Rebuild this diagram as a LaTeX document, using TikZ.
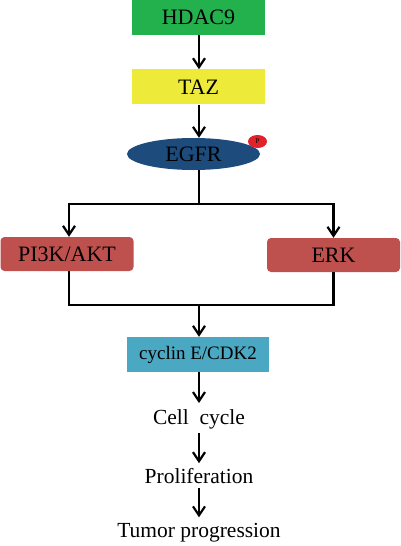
\documentclass[tikz,border=0pt]{standalone}
\usepackage{fontspec}
\setmainfont{Liberation Serif}
\usepackage{tikz}
\usetikzlibrary{positioning,arrows.meta,shapes.geometric,calc}
\definecolor{cverde}{HTML}{22B14C}
\definecolor{camarillo}{HTML}{EEEA3A}
\definecolor{cazul}{HTML}{1C4B7C}
\definecolor{crojo}{HTML}{E2222A}
\definecolor{cladrillo}{HTML}{BE504D}
\definecolor{cturquesa}{HTML}{4AA8C3}
\tikzset{
  caja/.style={rectangle, draw=none, minimum width=133pt, minimum height=35pt,
    inner sep=0pt, font=\fontsize{22}{26}\selectfont},
  cajar/.style={caja, rounded corners=4pt, fill=cladrillo, minimum height=34pt},
  texto/.style={inner sep=0pt, font=\fontsize{21.5}{25}\selectfont},
  flecha/.style={-{Straight Barb[length=9pt,width=12pt,line width=2.2pt]}, line width=2.3pt},
  linea/.style={line width=2.3pt},
}
\begin{document}
\begin{tikzpicture}[x=1pt,y=-1pt]
  \useasboundingbox (0,0) rectangle (400,546);
  \node[caja, fill=cverde] (hdac) at (198.5,17.5) {HDAC9};
  \node[caja, fill=camarillo, below=34pt of hdac] (taz) {TAZ};
  \node[ellipse, fill=cazul, minimum width=133pt, minimum height=32pt, inner sep=0pt,
    font=\fontsize{22}{26}\selectfont] (egfr) at (193.5,154) {EGFR};
  \node[ellipse, fill=crojo, minimum width=19pt, minimum height=13pt, inner sep=0pt,
    font=\fontsize{7}{8}\selectfont] (fosfo) at (257.5,141.5) {P};
  \node[cajar] (pi3k) at (67,254) {PI3K/AKT};
  \node[cajar] (erk) at (333.5,255) {ERK};
  \node[caja, fill=cturquesa, minimum width=142pt, font=\fontsize{19}{23}\selectfont]
    (ciclina) at (198,354.5) {cyclin E/CDK2};
  \node[texto] (ciclo) at (199,419) {Cell\,\,\,cycle};
  \node[texto] (prolif) at (199,476) {Proliferation};
  \node[texto] (tumor) at (199,533) {Tumor progression};
  \coordinate (rama) at (199,204);
  \coordinate (union) at (199,305);
  \draw[flecha] (hdac.south -| rama) -- (taz.north -| rama);
  \draw[flecha] (taz.south -| rama) -- (rama |- egfr.north);
  \draw[linea] (rama |- egfr.south) -- (rama);
  \draw[flecha] (rama) -| ($(pi3k.north)+(2,0)$);
  \draw[flecha] (rama) -| (erk.north);
  \draw[linea] ($(pi3k.south)+(2,0)$) |- (union) -| (erk.south);
  \draw[flecha] (union) -- (ciclina.north -| union);
  \draw[flecha] (ciclina.south -| union) -- ($(ciclo.north)+(0,-6)$);
  \draw[flecha] ($(ciclo.south)+(0,4)$) -- ($(prolif.north)+(0,-5)$);
  \draw[flecha] ($(prolif.south)+(0,4)$) -- ($(tumor.north)+(0,-6)$);
\end{tikzpicture}
\end{document}
